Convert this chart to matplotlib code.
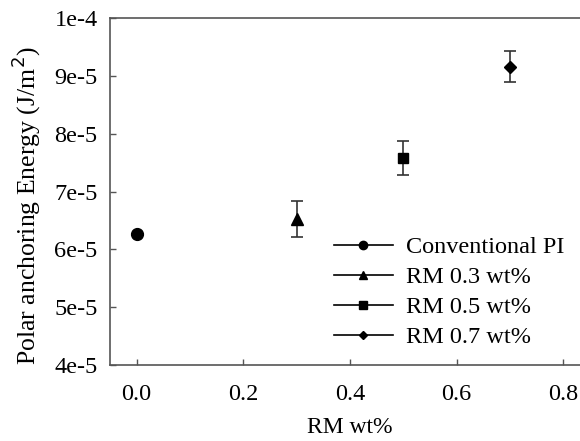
import matplotlib
matplotlib.use('Agg')
import matplotlib.pyplot as plt
from matplotlib.lines import Line2D

# data
labels = ['Conventional PI', 'RM 0.3 wt%', 'RM 0.5 wt%', 'RM 0.7 wt%']
rm_wt = [0.0, 0.3, 0.5, 0.7]
energy = [6.26e-5, 6.52e-5, 7.58e-5, 9.16e-5]
energy_err = [0.0, 0.31e-5, 0.29e-5, 0.27e-5]
markers = ['o', '^', 's', 'D']

yticks = [4e-5, 5e-5, 6e-5, 7e-5, 8e-5, 9e-5, 1e-4]
ytick_labels = ['4e-5', '5e-5', '6e-5', '7e-5', '8e-5', '9e-5', '1e-4']
xticks = [0.0, 0.2, 0.4, 0.6, 0.8]
xtick_labels = ['0.0', '0.2', '0.4', '0.6', '0.8']

plt.rcParams['font.family'] = ['Liberation Serif', 'DejaVu Serif']

fig = plt.figure(figsize=(5.8, 4.41), dpi=100)
# axes run past the right edge, like the cropped original
ax = fig.add_axes([110/580, (441-365)/441, (590-110)/580, (365-18)/441])

# marker sizes for the plot and for the legend
ms_plot = {'o': 8.5, '^': 8.5, 's': 7.5, 'D': 6.5}
ms_leg = {'o': 6, '^': 6, 's': 5.5, 'D': 4.5}

handles = []
for x, y, e, m, lab in zip(rm_wt, energy, energy_err, markers, labels):
    ax.errorbar([x], [y], yerr=[e], fmt=m, color='black', markersize=ms_plot[m],
                ecolor='#333333', elinewidth=1.2, capsize=4.3, capthick=1.2)
    handles.append(Line2D([], [], color='black', marker=m, markersize=ms_leg[m],
                          linewidth=1.2, label=lab))

ax.set_xlim(-0.05, 0.85)
ax.set_ylim(4e-5, 1e-4)
ax.set_xticks(xticks)
ax.set_xticklabels(xtick_labels)
ax.set_yticks(yticks)
ax.set_yticklabels(ytick_labels)
ax.tick_params(direction='in', length=4, width=1, color='#555555',
               labelsize=17.5)
ax.tick_params(axis='y', pad=9)
ax.tick_params(axis='x', pad=14)

for side in ['left', 'bottom', 'top']:
    ax.spines[side].set_color('#555555')
    ax.spines[side].set_linewidth(1.2)
ax.spines['right'].set_visible(False)

ax.set_xlabel('RM wt%', fontsize=17, labelpad=8)
ax.set_ylabel('Polar anchoring Energy (J/m$^2$)', fontsize=18.5)
ax.yaxis.set_label_coords(-0.14, 0.458)

ax.legend(handles=handles, loc='lower left', bbox_to_anchor=(0.447, 0.02),
          frameon=False, fontsize=17.5, handlelength=2.4, handletextpad=0.55,
          labelspacing=0.33, borderaxespad=0)

fig.savefig('out.png', dpi=100)
